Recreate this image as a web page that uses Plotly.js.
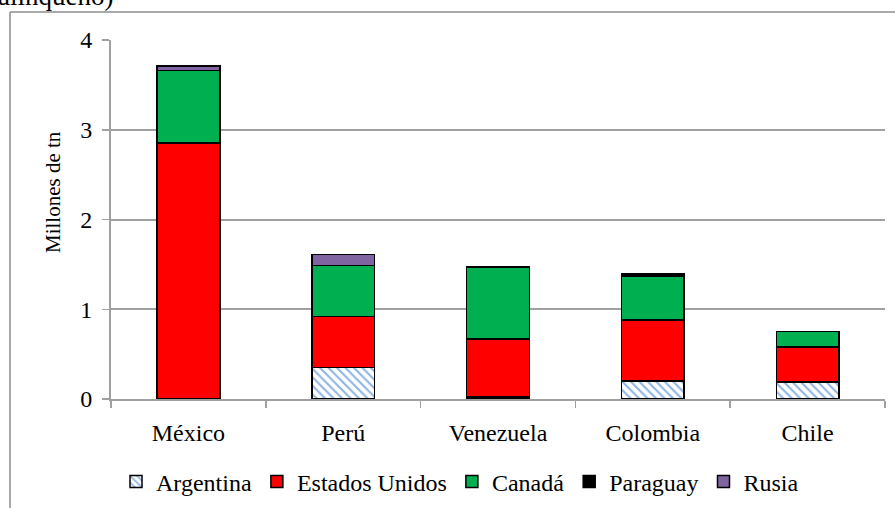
<!DOCTYPE html>
<html>
<head>
<meta charset="utf-8">
<script src="https://cdn.plot.ly/plotly-3.0.1.min.js"></script>
<style>
html,body{margin:0;padding:0;background:#fff;}
#chart{width:895px;height:508px;}
</style>
</head>
<body>
<div id="chart"></div>
<script>
var categories = ["México", "Perú", "Venezuela", "Colombia", "Chile"];
var argentina = [0, 0.35, 0.02, 0.20, 0.19];
var estadosUnidos = [2.85, 0.57, 0.65, 0.68, 0.39];
var canada = [0.81, 0.57, 0.80, 0.49, 0.17];
var paraguay = [0, 0, 0, 0.03, 0];
var rusia = [0.05, 0.12, 0, 0, 0];
var yTicks = [0, 1, 2, 3, 4];
var yTitle = "Millones de tn";
var topText = "alinqueño)";

var FONT = "Liberation Serif";
var line = {color: "#000", width: 1.5};

function tr(name, y, color, pattern) {
  var m = {color: color, line: line};
  if (pattern) m.pattern = pattern;
  return {type: "bar", name: name, x: categories, y: y, marker: m, hoverinfo: "y+name"};
}

var data = [
  tr("Argentina", argentina, "#ffffff", {shape: "\\", fgcolor: "#8eb4e3", bgcolor: "#ffffff", size: 6, solidity: 0.35}),
  tr("Estados Unidos", estadosUnidos, "#ff0000"),
  tr("Canadá", canada, "#00b050"),
  tr("Paraguay", paraguay, "#000000"),
  tr("Rusia", rusia, "#8064a2")
];

var L = 111, R = 885, T = 40, B = 399;
function px(x) { return (x - L) / (R - L); }
function py(y) { return (B - y) / (B - T); }

var layout = {
  width: 895, height: 508,
  margin: {l: L, r: 895 - R, t: T, b: 508 - B, pad: 0, autoexpand: false},
  paper_bgcolor: "#ffffff", plot_bgcolor: "#ffffff",
  font: {family: FONT, size: 24, color: "#000"},
  barmode: "stack",
  bargap: 0.595,
  showlegend: true,
  legend: {orientation: "h", x: px(116), xanchor: "left", y: py(482), yanchor: "middle",
           font: {family: FONT, size: 24, color: "#000"}, traceorder: "normal",
           itemwidth: 30, tracegroupgap: 0},
  xaxis: {
    type: "category", showgrid: false, zeroline: false, automargin: false,
    showline: true, linecolor: "#a0a0a0", linewidth: 2,
    ticks: "outside", tickson: "boundaries", ticklen: 7, tickcolor: "#a0a0a0", tickwidth: 1.5,
    ticklabelstandoff: 11,
    tickfont: {family: FONT, size: 24, color: "#000"}
  },
  yaxis: {
    range: [0, 4], tickvals: yTicks, ticktext: yTicks.map(String), automargin: false,
    showgrid: true, gridcolor: "#a0a0a0", gridwidth: 2, zeroline: false,
    showline: true, linecolor: "#a0a0a0", linewidth: 2,
    ticks: "outside", ticklen: 7, tickcolor: "#a0a0a0", tickwidth: 1.5,
    ticklabelstandoff: 5,
    tickfont: {family: FONT, size: 24, color: "#000"}
  },
  annotations: [
    {text: yTitle, textangle: -90, xref: "paper", yref: "paper", x: px(53), y: py(192),
     xanchor: "center", yanchor: "middle", showarrow: false,
     font: {family: FONT, size: 21, color: "#000"}},
    {text: topText, xref: "paper", yref: "paper", x: px(-4), y: py(13),
     xanchor: "left", yanchor: "bottom", showarrow: false,
     font: {family: FONT, size: 27, color: "#000"}}
  ],
  shapes: [
    {type: "line", xref: "paper", yref: "paper", x0: px(10), x1: px(10), y0: py(12), y1: py(520),
     line: {color: "#8c8c8c", width: 1.5}},
    {type: "line", xref: "paper", yref: "paper", x0: px(10), x1: px(900), y0: py(12), y1: py(12),
     line: {color: "#8c8c8c", width: 1.5}}
  ]
};

Plotly.newPlot("chart", data, layout, {displayModeBar: false, staticPlot: true});
</script>
</body>
</html>
